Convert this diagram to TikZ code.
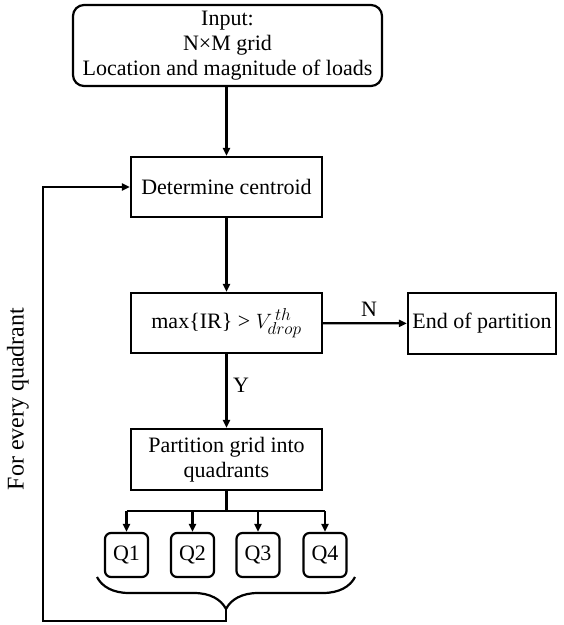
\documentclass[tikz,border=0pt]{standalone}
\usepackage{fontspec}
\setmainfont{Liberation Serif}
\DeclareMathSizes{22}{22}{16}{12}
\usetikzlibrary{arrows.meta,decorations.pathreplacing}
\begin{document}
\begin{tikzpicture}[x=1pt,y=-1pt,line width=2.2pt,
  every node/.style={font=\fontsize{22}{25}\selectfont},
  box/.style={draw,line width=2.2pt,align=center,inner sep=0pt},
  rbox/.style={box,rounded corners=11pt},
  qbox/.style={box,rounded corners=6pt,minimum width=43pt,minimum height=44pt},
  conn/.style={line width=2.2pt},
  arr/.style={conn,-{Triangle[length=8pt,width=7pt]}}]
\useasboundingbox (0,0) rectangle (564,625);
\node[rbox,minimum width=309pt,minimum height=81pt] (in) at (227.5,45.5) {Input:\\N×M grid\\Location and magnitude of loads};
\node[box,minimum width=191pt,minimum height=60pt] (det) at (226.5,187) {Determine centroid};
\node[box,minimum width=191pt,minimum height=60pt] (max) at (226.5,323) {max\{IR\} > $V_{drop}^{\,th}$};
\node[box,minimum width=148pt,minimum height=61pt] (end) at (482,323.5) {End of partition};
\node[box,minimum width=191pt,minimum height=61pt] (part) at (226.5,459.5) {Partition grid into\\quadrants};
\node[qbox] (q1) at (126.5,555) {Q1};
\node[qbox] (q2) at (192.5,555) {Q2};
\node[qbox] (q3) at (258,555) {Q3};
\node[qbox] (q4) at (325,555) {Q4};
\node (lN) at (369,309) {N};
\node (lY) at (241,385) {Y};
\node[rotate=90,font=\fontsize{24}{27}\selectfont] (lfor) at (18,399) {For every quadrant};
\draw[arr] (in.south -| det.north) -- (det.north);
\draw[arr] (det) -- (max);
\draw[arr] (max) -- (end);
\draw[arr] (max) -- (part);
\coordinate (br) at (226.5,511);
\draw[conn] (part.south) -- (br);
\draw[conn] (q1.north |- br) -- (q4.north |- br);
\foreach \q in {q1,q2,q3,q4} \draw[arr] (\q.north |- br) -- (\q.north);
\draw[conn,decorate,decoration={brace,amplitude=32pt,aspect=0.5}] (355,577) -- (97,577);
\coordinate (bt) at (226,609);
\coordinate (bl) at (43,621);
\draw[arr] (bt) |- (bl) |- (det.west);
\end{tikzpicture}
\end{document}
